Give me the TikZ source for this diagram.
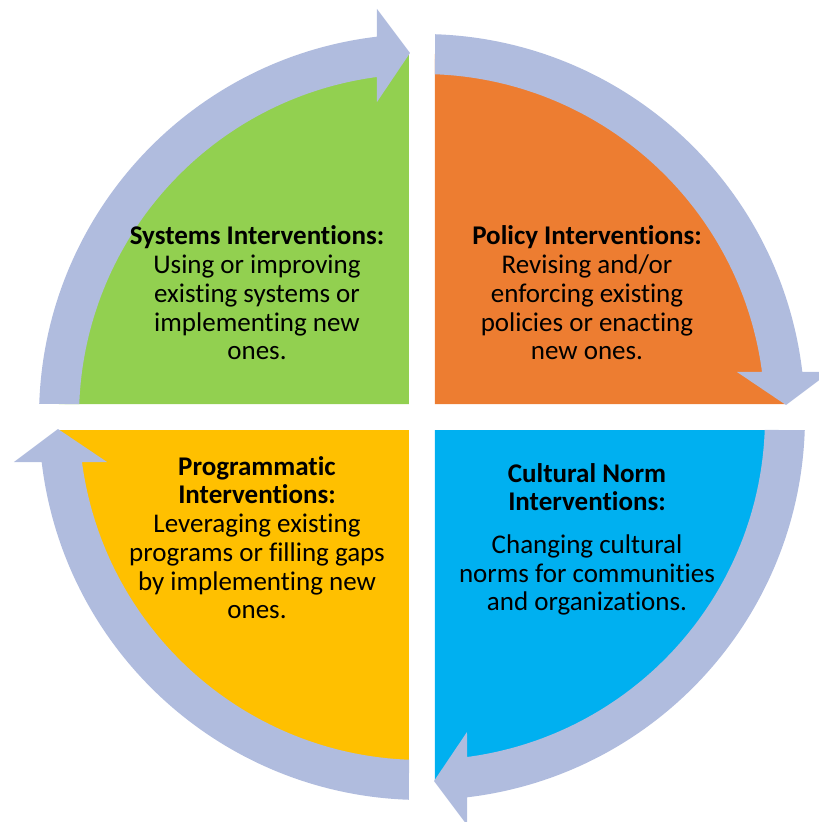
\documentclass[tikz,border=0pt]{standalone}
\usepackage{fontspec}
\setmainfont{Carlito}[Ligatures={NoCommon}]
\definecolor{cgreen}{RGB}{146,208,80}
\definecolor{corange}{RGB}{237,125,49}
\definecolor{cblue}{RGB}{0,176,240}
\definecolor{cyellow}{RGB}{255,192,0}
\definecolor{carrow}{RGB}{176,188,222}
\begin{document}
\begin{tikzpicture}[x=1pt,y=1pt,
  txt/.style={anchor=base,inner sep=0pt,font=\fontsize{27}{29}\selectfont},
  hd/.style={txt,font=\fontsize{27}{29}\selectfont\bfseries},
  arrowband/.style={fill=carrow,draw=none}]
\useasboundingbox (-422,-405) rectangle (397,417);
% sectors
\fill[cgreen]  (-13,13)  -- (-363,13) arc[start angle=180,end angle=90,radius=350] -- cycle;
\fill[corange] (13,13)   -- (13,363)  arc[start angle=90,end angle=0,radius=350] -- cycle;
\fill[cblue]   (13,-13)  -- (363,-13) arc[start angle=0,end angle=-90,radius=350] -- cycle;
\fill[cyellow] (-13,-13) -- (-13,-363) arc[start angle=270,end angle=180,radius=350] -- cycle;
% arrows
\foreach \r in {0,-90,-180,-270}{
  \begin{scope}[rotate=\r]
  \fill[arrowband] (178.05:383) arc[start angle=178.05,end angle=96.75,radius=383]
    -- (-45,408) -- (-12,364) -- (-45,315) -- (97.54:343)
    arc[start angle=97.54,end angle=177.83,radius=343] -- cycle;
  \end{scope}
}
% text (image y -> 417 - y ; image x -> x - 422)
\node[hd]  (s1) at (-165,172) {Systems Interventions:};
\node[txt] (s2) at (-165,143) {Using or improving};
\node[txt] (s3) at (-165,114) {existing systems or};
\node[txt] (s4) at (-165,85)  {implementing new};
\node[txt] (s5) at (-165,57)  {ones.};
\node[hd]  (p1) at (165,172) {Policy Interventions:};
\node[txt] (p2) at (165,143) {Revising and/or};
\node[txt] (p3) at (165,114) {enforcing existing};
\node[txt] (p4) at (165,85)  {policies or enacting};
\node[txt] (p5) at (165,57)  {new ones.};
\node[hd]  (g1) at (-165,-58)  {Programmatic};
\node[hd]  (g2) at (-165,-86)  {Interventions:};
\node[txt] (g3) at (-165,-115) {Leveraging existing};
\node[txt] (g4) at (-165,-144) {programs or filling gaps};
\node[txt] (g5) at (-165,-173) {by implementing new};
\node[txt] (g6) at (-165,-201) {ones.};
\node[hd]  (c1) at (165,-65)  {Cultural Norm};
\node[hd]  (c2) at (165,-93)  {Interventions:};
\node[txt] (c3) at (165,-136) {Changing cultural};
\node[txt] (c4) at (165,-165) {norms for communities};
\node[txt] (c5) at (165,-193) {and organizations.};
\end{tikzpicture}
\end{document}
